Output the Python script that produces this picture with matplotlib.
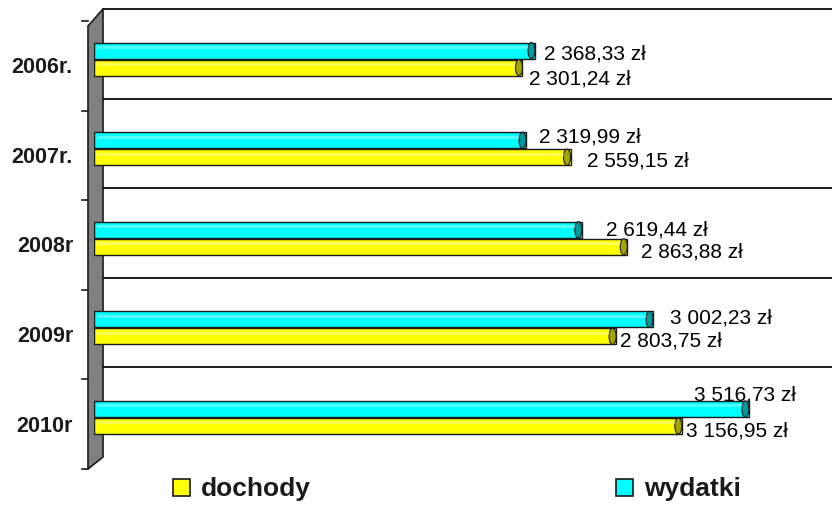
import matplotlib
matplotlib.use("Agg")
import matplotlib.pyplot as plt
from matplotlib.patches import Rectangle, Ellipse, Polygon
from matplotlib.transforms import offset_copy

plt.rcParams['font.family'] = ['Liberation Sans', 'DejaVu Sans']

# data
years = ["2006r.", "2007r.", "2008r", "2009r", "2010r"]
dochody = [2301.24, 2559.15, 2863.88, 2803.75, 3156.95]
wydatki = [2368.33, 2319.99, 2619.44, 3002.23, 3516.73]
dochody_labels = ["2 301,24 zł", "2 559,15 zł", "2 863,88 zł", "2 803,75 zł", "3 156,95 zł"]
wydatki_labels = ["2 368,33 zł", "2 319,99 zł", "2 619,44 zł", "3 002,23 zł", "3 516,73 zł"]

W, H, DPI = 832, 506, 100
fig = plt.figure(figsize=(W / DPI, H / DPI), dpi=DPI)
fig.patch.set_facecolor("white")

# plot area in pixels (front plane)
left_px, right_px, top_px, bottom_px = 94, 832, 22, 470
ax = fig.add_axes([left_px / W, 1 - bottom_px / H,
                   (right_px - left_px) / W, (bottom_px - top_px) / H])
ax.patch.set_alpha(0)
px_per_unit = 0.1862
ax.set_xlim(0, (right_px - left_px) / px_per_unit)
ax.set_ylim(len(years) - 0.5, -0.5)
ax.axis("off")


def shifted(dx, dy):
    # pixel offset, dy positive = up
    return offset_copy(ax.transData, fig=fig, x=dx, y=dy, units="dots")


# back wall gridlines (shifted up/right for the 3d look)
back = shifted(9, 12)
for b in [-0.5, 0.5, 1.5, 2.5, 3.5]:
    ax.plot([0, 4200], [b, b], color="#1a1a1a", lw=1.4, transform=back, clip_on=False, zorder=1)

# left wall, below the bars
n = len(years)
front = shifted(-6, 0)
fx0, fy0 = front.transform((0, n - 0.5))
fx1, fy1 = front.transform((0, -0.5))
bx0, by0 = back.transform((0, -0.5))
bx1, by1 = back.transform((0, n - 0.5))
wall = Polygon([(fx0, fy0), (fx1, fy1 - 5), (bx0, by0), (bx1, by1)], closed=True,
               transform=None, facecolor="#808080", edgecolor="#1a1a1a", lw=1.2, zorder=-1)
fig.add_artist(wall)
for b in [-0.5, 0.5, 1.5, 2.5, 3.5, 4.5]:
    x, y = front.transform((0, b))
    fig.add_artist(plt.Line2D([x - 6, x], [y, y], transform=None, color="#1a1a1a", lw=1.2,
                              zorder=-1))

# bars
bar_h = 0.18
cap_w = 7 / px_per_unit
series = [
    (wydatki, wydatki_labels, -0.17, "#00FFFF", "#009a9a"),
    (dochody, dochody_labels, 0.02, "#FFFF00", "#a5a500"),
]
for vals, labels, off, color, cap_color in series:
    ys = [i + off for i in range(n)]
    ax.barh(ys, vals, height=bar_h, color=color, edgecolor="#1a1a1a", lw=1.0, zorder=3)
    for y, v in zip(ys, vals):
        ax.add_patch(Ellipse((v - cap_w / 2, y), cap_w, bar_h, facecolor=cap_color,
                             edgecolor="#1a1a1a", lw=0.8, zorder=4))
        ax.plot([3 / px_per_unit, v - cap_w], [y - bar_h * 0.22, y - bar_h * 0.22],
                color="white", alpha=0.35, lw=2, zorder=4, solid_capstyle="butt")

# value labels: pixel offsets (dx right, dy down) from bar end / bar centre
w_off = [(9, 2), (13, -4), (24, -1), (17, -2), (-55, -15)]
d_off = [(7, 10), (16, 3), (14, 4), (4, 4), (4, 4)]
for (vals, labels, off, _, _), offs in zip(series, [w_off, d_off]):
    for i, (v, lab) in enumerate(zip(vals, labels)):
        dx, dy = offs[i]
        ax.text(v, i + off, lab, transform=shifted(dx, -dy), ha="left", va="center",
                fontsize=15, color="black", zorder=5)

# category labels
for i, yr in enumerate(years):
    ax.text(0, i, yr, transform=shifted(-21, -1), ha="right", va="center",
            fontsize=15.5, fontweight="bold", color="#1a1a1a")

# legend
legend_items = [("dochody", "#FFFF00", 173), ("wydatki", "#00FFFF", 616)]
for name, color, x in legend_items:
    fig.add_artist(Rectangle((x / W, 1 - 497 / H), 17 / W, 17 / H, transform=fig.transFigure,
                             facecolor=color, edgecolor="#1a1a1a", lw=1.2))
    fig.text((x + 28) / W, 1 - 489 / H, name, ha="left", va="center",
             fontsize=19, fontweight="bold", color="#1a1a1a")

fig.savefig("out.png", dpi=DPI, facecolor="white")
